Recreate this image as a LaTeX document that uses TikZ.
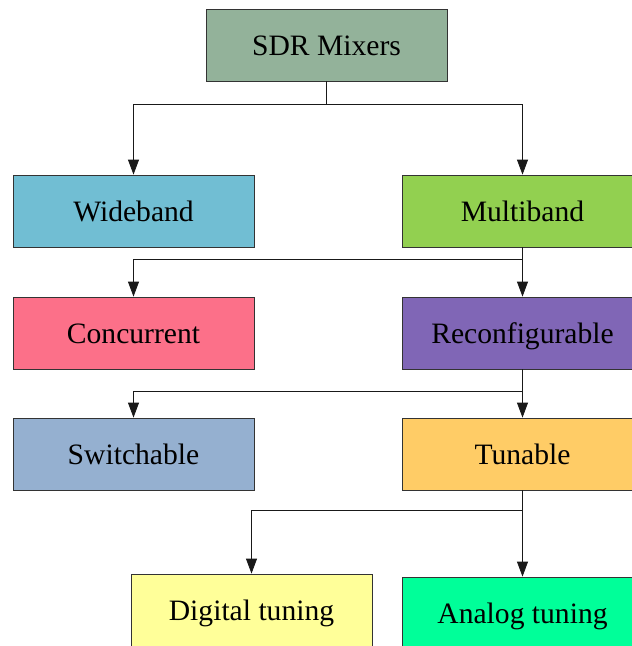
\documentclass[tikz,border=0pt]{standalone}
\usepackage{fontspec}
\setmainfont{Liberation Serif}
\usetikzlibrary{arrows.meta}

\definecolor{cSDR}{HTML}{93B29A}
\definecolor{cWide}{HTML}{71BED3}
\definecolor{cMulti}{HTML}{92D050}
\definecolor{cConc}{HTML}{FC7089}
\definecolor{cReconf}{HTML}{8066B6}
\definecolor{cSwitch}{HTML}{95B0D0}
\definecolor{cTune}{HTML}{FFCC66}
\definecolor{cDigital}{HTML}{FFFF99}
\definecolor{cAnalog}{HTML}{00FF99}

\tikzset{
  box/.style={draw=black!80, line width=0.8pt, minimum width=241pt,
    minimum height=72pt, inner sep=0pt, text height=21pt, text depth=0pt,
    font=\fontsize{29.6}{34}\selectfont},
  link/.style={draw=black!90, line width=0.8pt},
  arr/.style={link, -{Triangle[width=11pt,length=15pt]}}
}

\begin{document}
\begin{tikzpicture}[x=1pt,y=-1pt]
  \clip (0,0) rectangle (632,646);
  \fill[white] (0,0) rectangle (632,646);

  % tree nodes
  \node[box, fill=cSDR]     (sdr)    at (326.5,45)  {SDR Mixers};
  \node[box, fill=cWide]    (wide)   at (133.5,211) {Wideband};
  \node[box, fill=cMulti]   (multi)  at (522.5,211) {Multiband};
  \node[box, fill=cConc]    (conc)   at (133.5,333) {Concurrent};
  \node[box, fill=cReconf]  (reconf) at (522.5,333) {Reconfigurable};
  \node[box, fill=cSwitch]  (switch) at (133.5,454) {Switchable};
  \node[box, fill=cTune]    (tune)   at (522.5,454) {Tunable};
  \node[box, fill=cDigital] (dig)    at (251.5,610) {Digital tuning};
  \node[box, fill=cAnalog]  (ana)    at (522.5,613) {Analog tuning};

  % branching points
  \coordinate (j1) at (326.5,104);
  \coordinate (j2) at (522.5,259);
  \coordinate (j3) at (522.5,391);
  \coordinate (j4) at (522.5,510);

  % connectors
  \draw[link] (sdr.south) -- (j1);
  \draw[arr] (j1) -| (wide.north);
  \draw[arr] (j1) -| (multi.north);

  \draw[link] (multi.south) -- (j2);
  \draw[arr] (j2) -| (conc.north);
  \draw[arr] (j2) -- (reconf.north);

  \draw[link] (reconf.south) -- (j3);
  \draw[arr] (j3) -| (switch.north);
  \draw[arr] (j3) -- (tune.north);

  \draw[link] (tune.south) -- (j4);
  \draw[arr] (j4) -| (dig.north);
  \draw[arr] (j4) -- (ana.north);
\end{tikzpicture}
\end{document}
